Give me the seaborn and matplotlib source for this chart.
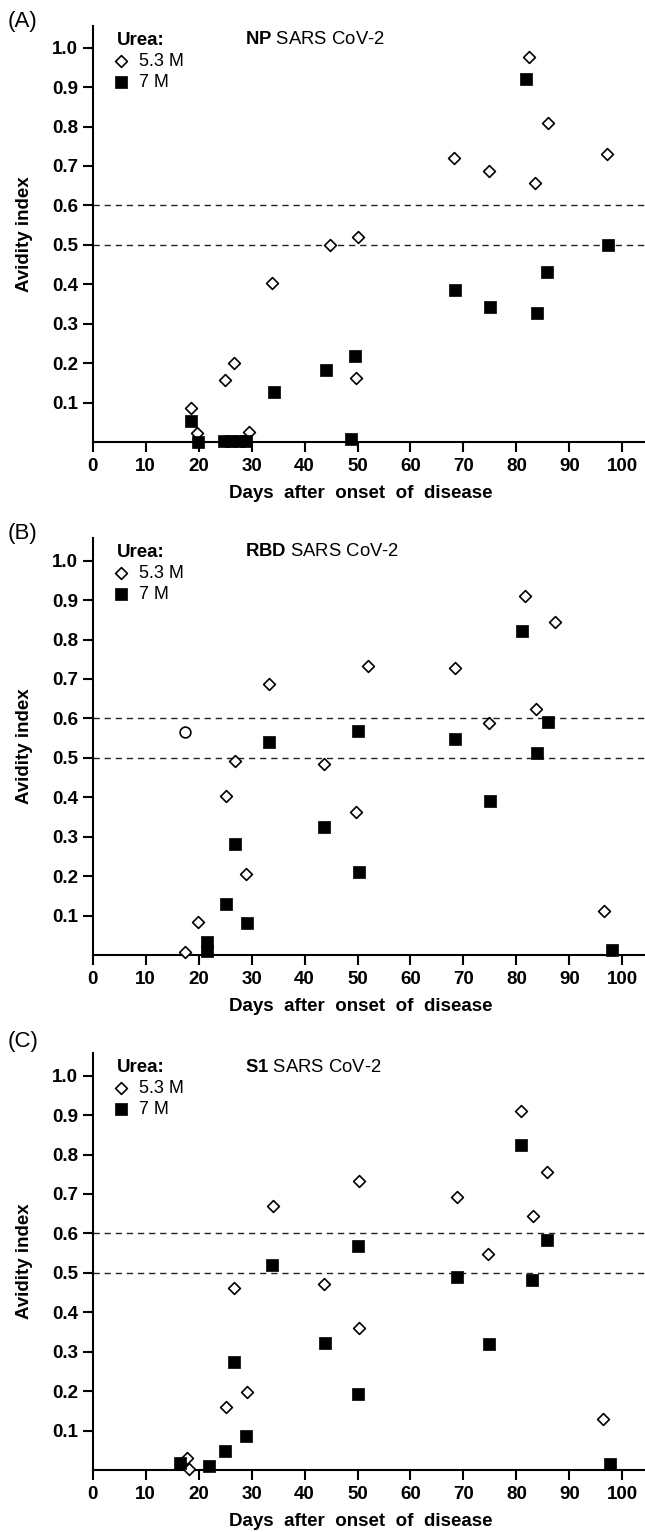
import numpy as np
import pandas as pd
import seaborn as sns
import matplotlib.pyplot as plt

# ---- data ----
np_day_53 = [18.5, 19.7, 24.9, 26.7, 29.6, 33.9, 44.8, 50.0, 49.7, 68.3, 74.8, 82.4, 86.0, 83.6, 97.2]
np_avi_53 = [0.085, 0.023, 0.156, 0.200, 0.026, 0.403, 0.500, 0.519, 0.162, 0.720, 0.687, 0.976, 0.809, 0.656, 0.730]
np_day_7 = [18.6, 19.8, 24.8, 26.2, 27.6, 28.9, 34.2, 44.0, 49.6, 48.8, 68.5, 75.1, 83.8, 85.7, 97.3, 81.9]
np_avi_7 = [0.052, 0.0, 0.003, 0.003, 0.003, 0.003, 0.126, 0.182, 0.217, 0.008, 0.385, 0.342, 0.328, 0.430, 0.500, 0.920]

rbd_day_53 = [17.4, 19.9, 25.2, 26.9, 28.9, 33.2, 43.7, 49.8, 52.0, 68.4, 74.8, 81.6, 83.7, 87.2, 96.6]
rbd_avi_53 = [0.008, 0.084, 0.402, 0.493, 0.205, 0.688, 0.484, 0.362, 0.733, 0.727, 0.588, 0.910, 0.624, 0.845, 0.112]
rbd_day_7 = [21.5, 21.5, 25.2, 26.9, 29.1, 33.2, 43.7, 50.2, 50.0, 68.4, 75.1, 81.1, 83.8, 85.9, 98.1]
rbd_avi_7 = [0.034, 0.010, 0.130, 0.282, 0.080, 0.539, 0.324, 0.210, 0.568, 0.547, 0.391, 0.822, 0.512, 0.590, 0.013]
rbd_circle_day = [17.4]
rbd_circle_avi = [0.566]

s1_day_53 = [17.8, 18.1, 25.1, 26.7, 29.2, 34.1, 43.7, 50.2, 50.3, 68.7, 74.6, 80.9, 83.1, 85.7, 96.4]
s1_avi_53 = [0.031, 0.002, 0.161, 0.461, 0.198, 0.670, 0.472, 0.359, 0.733, 0.693, 0.547, 0.911, 0.644, 0.757, 0.130]
s1_day_7 = [16.5, 22.0, 25.0, 26.6, 28.9, 33.9, 43.9, 50.0, 50.0, 68.8, 74.8, 80.9, 83.0, 85.8, 97.7]
s1_avi_7 = [0.018, 0.009, 0.047, 0.273, 0.085, 0.519, 0.321, 0.193, 0.567, 0.490, 0.320, 0.824, 0.481, 0.583, 0.016]

panel_letters = ["(A)", "(B)", "(C)"]
antigens = ["NP", "RBD", "S1"]
thresholds = [0.5, 0.6]
x_ticks = list(range(0, 101, 10))
y_ticks = [0.1, 0.2, 0.3, 0.4, 0.5, 0.6, 0.7, 0.8, 0.9, 1.0]

sns.set_theme(style="ticks")
plt.rcParams['font.family'] = ['Liberation Sans', 'DejaVu Sans']
plt.rcParams['text.color'] = 'black'
plt.rcParams['axes.labelcolor'] = 'black'
plt.rcParams['mathtext.fontset'] = 'custom'
plt.rcParams['mathtext.rm'] = 'Liberation Sans'
plt.rcParams['mathtext.bf'] = 'Liberation Sans:bold'

W, H = 645, 1532
fig = plt.figure(figsize=(W / 100, H / 100), dpi=100)

# axes boxes in pixels: (top, bottom)
boxes = [(26, 442), (538, 955), (1053, 1470)]
letter_y = [22, 533, 1042]
x0 = 92.7

panels = [
    (np_day_53, np_avi_53, np_day_7, np_avi_7),
    (rbd_day_53, rbd_avi_53, rbd_day_7, rbd_avi_7),
    (s1_day_53, s1_avi_53, s1_day_7, s1_avi_7),
]

for i, (d53, a53, d7, a7) in enumerate(panels):
    top, bot = boxes[i]
    ax = fig.add_axes([x0 / W, 1 - bot / H, (W - x0) / W, (bot - top) / H])

    for t in thresholds:
        ax.axhline(t, color="#222222", lw=1.0, ls=(0, (4.5, 3.5)), zorder=1)

    sns.scatterplot(x=d53, y=a53, ax=ax, marker="D", s=36, color="white",
                    edgecolor="black", linewidth=1.2, label="5.3 M",
                    clip_on=False, zorder=3)
    sns.scatterplot(x=d7, y=a7, ax=ax, marker="s", s=68, color="black",
                    edgecolor="black", linewidth=0.5, label="7 M",
                    clip_on=False, zorder=4)
    if i == 1:
        sns.scatterplot(x=rbd_circle_day, y=rbd_circle_avi, ax=ax, marker="o",
                        s=60, color="white", edgecolor="black", linewidth=1.2,
                        clip_on=False, zorder=3)

    ax.set_xlim(0, (W - x0) / 5.296)
    ax.set_ylim(0, (bot - top) / 394.3)
    ax.set_xticks(x_ticks)
    ax.set_yticks(y_ticks)
    ax.set_yticklabels([f"{v:.1f}" for v in y_ticks])
    ax.tick_params(direction="out", length=7.5, width=1.5, labelsize=13.5,
                   color="black", labelcolor="black")
    ax.tick_params(axis="y", pad=3)
    ax.tick_params(axis="x", pad=4)
    for lab in ax.get_xticklabels() + ax.get_yticklabels():
        lab.set_fontweight("bold")
    for side in ["top", "right"]:
        ax.spines[side].set_visible(False)
    for side in ["left", "bottom"]:
        ax.spines[side].set_linewidth(1.5)
        ax.spines[side].set_color("black")

    ax.set_ylabel("Avidity index", fontsize=13.5, fontweight="bold")
    ax.yaxis.set_label_coords(-0.108, 0.5)
    ax.set_xlabel("Days  after  onset  of  disease", fontsize=13.5,
                  fontweight="bold")
    ax.xaxis.set_label_coords(0.486, -0.104)

    leg = ax.legend(title="Urea:", loc="upper left", bbox_to_anchor=(0.043, 0.985),
                    frameon=False, alignment="left", fontsize=13,
                    title_fontproperties={"weight": "bold", "size": 13.5},
                    handlelength=0.5, handletextpad=0.75, labelspacing=0.22,
                    borderpad=0, borderaxespad=0)
    for txt in leg.get_texts():
        txt.set_color("black")

    ax.text((245 - x0) / (W - x0), 1 - 14 / (bot - top),
            r"$\mathbf{" + antigens[i] + r"}$ SARS CoV-2",
            transform=ax.transAxes, fontsize=13.3, va="center", ha="left")

    fig.text(8 / W, 1 - letter_y[i] / H, panel_letters[i], fontsize=16,
             va="center", ha="left")

fig.savefig("out.png", dpi=100)
